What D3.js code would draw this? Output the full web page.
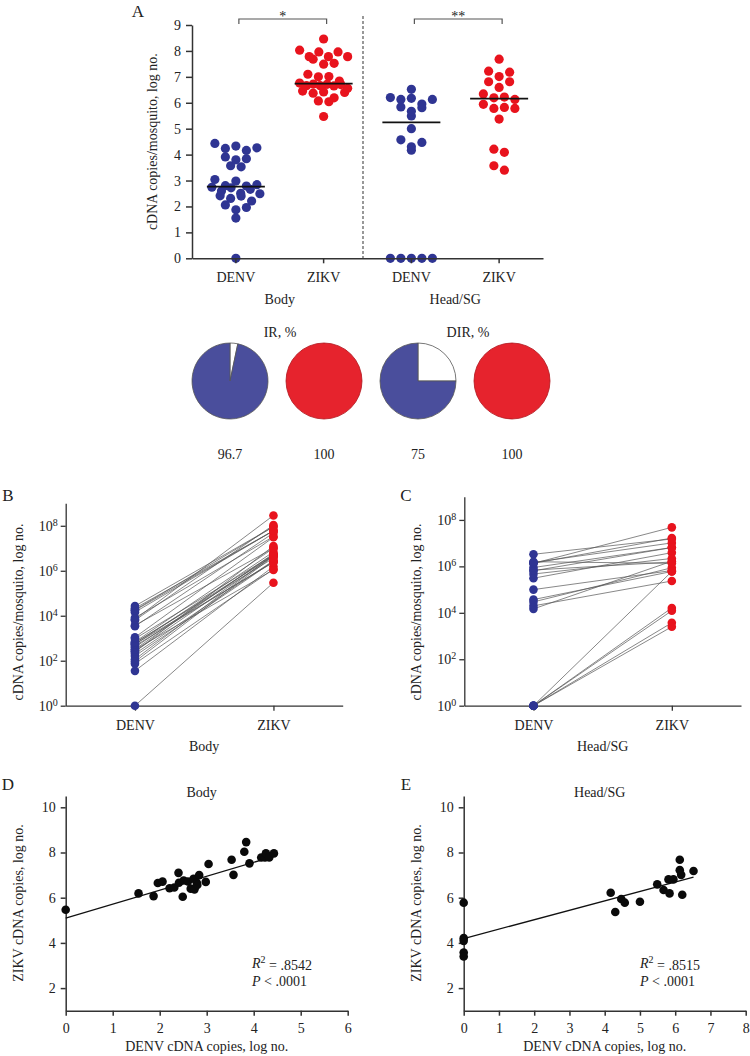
<!DOCTYPE html>
<html>
<head>
<meta charset="utf-8">
<script src="https://cdn.jsdelivr.net/npm/d3@7"></script>
<style>
    body { margin: 0; background: #fff; }
    svg { display: block; }
</style>
</head>
<body>
<div id="chart"></div>
<script>

const bodyDenv = [0, 1.55, 1.87, 1.96, 2.06, 2.21, 2.31, 2.40, 2.41, 2.49, 2.51, 2.60, 2.66, 2.72, 2.74,
                  2.79, 2.80, 2.84, 2.98, 3.04, 3.53, 3.57, 3.80, 3.84, 3.91, 4.16, 4.24, 4.26, 4.33, 4.43];
const bodyZikv = [5.47, 6.19, 6.07, 6.65, 6.71, 6.42, 6.45, 7.10, 6.66, 6.04, 6.76, 6.72, 6.40, 6.84, 6.37,
                  6.66, 6.56, 7.00, 6.70, 7.49, 7.68, 7.01, 8.03, 8.46, 7.52, 7.78, 7.78, 7.96, 7.78, 7.96];

const headDenv = [0, 0, 0, 0, 0, 4.17, 4.30, 4.47, 4.57, 5.00,
                  5.49, 5.67, 5.81, 5.84, 5.95, 6.13, 6.13, 6.17, 6.20, 6.52];
const headZikv = [5.78, 4.21, 4.09, 3.57, 3.40, 6.22, 5.37, 5.94, 5.78, 5.82,
                  6.59, 6.34, 6.81, 6.19, 6.81, 7.68, 7.22, 7.01, 6.13, 7.18];

const virusLabels = ["DENV", "ZIKV"];
const tissueLabels = ["Body", "Head/SG"];
const sigMarks = ["*", "**"];

const infectionRates = [96.7, 100, 75, 100];
const rateTitles = ["IR, %", "DIR, %"];

const logTicks = [0, 2, 4, 6, 8];
const linearTicksA = [0, 1, 2, 3, 4, 5, 6, 7, 8, 9];
const ticksDE = [2, 4, 6, 8, 10];

const bodyFit = {intercept: 5.10, slope: 0.616};
const headFit = {intercept: 4.19, slope: 0.418};
const rSquared = [".8542", ".8515"];
const pValues = [".0001", ".0001"];

const FONT = '"Liberation Serif", "DejaVu Serif", serif';
const BLUE = "#2f3593";
const RED = "#e8131d";
const PIE_BLUE = "#4a4e9c";
const PIE_RED = "#e6232d";
const AXIS = "#333";
const TEXT = "#222";

const svg = d3.select("#chart")
    .append("svg")
    .attr("width", 750)
    .attr("height", 1056)
    .attr("font-family", FONT)
    .style("background", "#fff");

function styleAxis(g, width) {
    g.attr("font-family", FONT).attr("font-size", 14);
    g.select(".domain").attr("stroke", AXIS).attr("stroke-width", width);
    g.selectAll(".tick line").attr("stroke", AXIS).attr("stroke-width", width);
    g.selectAll(".tick text").attr("fill", TEXT);
}

function addText(x, y, str, size, anchor) {
    return svg.append("text")
        .attr("x", x).attr("y", y)
        .attr("font-size", size)
        .attr("text-anchor", anchor || "middle")
        .attr("fill", TEXT)
        .text(str);
}

function addYLabel(x, y, str) {
    svg.append("text")
        .attr("transform", "translate(" + x + "," + y + ") rotate(-90)")
        .attr("font-size", 14)
        .attr("text-anchor", "middle")
        .attr("fill", TEXT)
        .text(str);
}

function powerLabels(g) {
    g.selectAll(".tick text").each(function (d) {
        let t = d3.select(this);
        t.text("10");
        t.append("tspan")
            .attr("dy", "-0.5em")
            .attr("font-size", 10)
            .text(Math.round(Math.log10(d)));
    });
}

// scatter-dot layout: walk the points top to bottom, open a new row whenever a
// point is more than rowHeight below the first point of the current row, then
// spread each row evenly about the centre (squeezed if it gets too wide)
function swarm(values, y, rowHeight, spacing, maxHalf) {
    let pts = values.map(v => ({v: v, y: y(v), x: 0}));
    let sorted = pts.slice().sort((a, b) => a.y - b.y);
    let rows = [];
    sorted.forEach(p => {
        let row = rows[rows.length - 1];
        if (!row || p.y - row[0].y > rowHeight) rows.push([p]);
        else row.push(p);
    });
    rows.forEach((row, r) => {
        let n = row.length;
        let step = n > 1 ? Math.min(spacing, 2 * maxHalf / (n - 1)) : 0;
        let shift = (n === 1 && r % 2 === 1) ? 0 : 0;
        row.forEach((p, j) => {
            p.x = (j - (n - 1) / 2) * step + shift;
        });
        // interleave so the row is not ordered by value left to right
        let xs = row.map(p => p.x);
        let idx = d3.range(n).sort((a, b) => (a % 2) - (b % 2) || a - b);
        row.forEach((p, j) => { p.x = xs[idx[j]]; });
    });
    return pts;
}

// ---------------- panel A ----------------
const groupsA = ["bodyDenv", "bodyZikv", "headDenv", "headZikv"];
const seriesA = [bodyDenv, bodyZikv, headDenv, headZikv];
const colorsA = [BLUE, RED, BLUE, RED];

const xA = d3.scaleBand().domain(groupsA).range([192, 543]);
const yA = d3.scaleLinear().domain([0, 9]).range([258.3, 25]);
const cA = g => xA(g) + xA.bandwidth() / 2;

addText(138, 17, "A", 17);

svg.append("line")
    .attr("x1", 363).attr("x2", 363)
    .attr("y1", 16).attr("y2", yA(0))
    .attr("stroke", "#555").attr("stroke-width", 1.2)
    .attr("stroke-dasharray", "3,2");

seriesA.forEach((vals, i) => {
    let cx = cA(groupsA[i]);
    let pts = swarm(vals, yA, 7.5, 10.5, 24);
    svg.append("g").selectAll("circle")
        .data(pts)
        .enter()
        .append("circle")
        .attr("cx", d => cx + d.x)
        .attr("cy", d => d.y)
        .attr("r", 4.6)
        .attr("fill", colorsA[i]);

    let med = d3.median(vals);
    svg.append("line")
        .attr("x1", cx - 29).attr("x2", cx + 29)
        .attr("y1", yA(med)).attr("y2", yA(med))
        .attr("stroke", "#111").attr("stroke-width", 1.6);
});

svg.append("g")
    .attr("transform", "translate(192,0)")
    .call(d3.axisLeft(yA).tickValues(linearTicksA).tickSize(6).tickPadding(5).tickSizeOuter(0))
    .call(g => styleAxis(g, 1.5));

svg.append("g")
    .attr("transform", "translate(0," + yA(0) + ")")
    .call(d3.axisBottom(xA).tickSize(5).tickPadding(9).tickSizeOuter(0)
        .tickFormat((d, i) => virusLabels[i % 2]))
    .call(g => styleAxis(g, 1.5));

addYLabel(157, yA(4.5), "cDNA copies/mosquito, log no.");

tissueLabels.forEach((t, i) => {
    let x1 = cA(groupsA[i * 2]);
    let x2 = cA(groupsA[i * 2 + 1]);
    addText((x1 + x2) / 2, 304, t, 14);

    svg.append("path")
        .attr("d", "M" + (x1 + 3) + ",24V19H" + (x2 + 3) + "V24")
        .attr("fill", "none")
        .attr("stroke", "#555")
        .attr("stroke-width", 1.2);
    addText((x1 + x2) / 2 + 3, 21, sigMarks[i], 14);
});

// pies
const xPie = d3.scalePoint().domain(d3.range(infectionRates.length)).range([230, 512]);
const pie = d3.pie().sort(null).value(d => d);
const arc = d3.arc().innerRadius(0).outerRadius(38);

infectionRates.forEach((rate, i) => {
    let g = svg.append("g").attr("transform", "translate(" + xPie(i) + ",381)");
    g.selectAll("path")
        .data(pie([100 - rate, rate]))
        .enter()
        .append("path")
        .attr("d", arc)
        .attr("fill", (d, j) => j === 0 ? "#fff" : (i % 2 === 0 ? PIE_BLUE : PIE_RED))
        .attr("stroke", (d, j) => i % 2 === 0 || j === 0 ? "#555" : "#b0141c")
        .attr("stroke-width", 0.8);
    addText(xPie(i), 459, String(rate), 14);
});

rateTitles.forEach((t, i) => {
    addText((xPie(i * 2) + xPie(i * 2 + 1)) / 2 + 3, 337, t, 14);
});

// ---------------- panels B and C ----------------
function drawPaired(denv, zikv, opt) {
    let x = d3.scalePoint().domain(virusLabels).range([opt.x0, opt.x1]).padding(0.5);
    let y = d3.scaleLog().domain([1, 1e9]).range([705.7, opt.top]);

    addText(opt.letterX, 501, opt.letter, 17);

    let pairs = denv.map((d, i) => ({denv: 10 ** d, zikv: 10 ** zikv[i]}));

    svg.append("g").selectAll("line")
        .data(pairs)
        .enter()
        .append("line")
        .attr("x1", x("DENV"))
        .attr("x2", x("ZIKV"))
        .attr("y1", d => y(d.denv))
        .attr("y2", d => y(d.zikv))
        .attr("stroke", "#555")
        .attr("stroke-width", 0.7);

    svg.append("g")
        .attr("transform", "translate(" + opt.x0 + ",0)")
        .call(d3.axisLeft(y).tickValues(logTicks.map(p => 10 ** p)).tickSize(5).tickPadding(3).tickSizeOuter(0))
        .call(g => styleAxis(g, 1.3))
        .call(powerLabels);

    svg.append("g")
        .attr("transform", "translate(0,705.7)")
        .call(d3.axisBottom(x).tickSize(5).tickPadding(9).tickSizeOuter(0))
        .call(g => styleAxis(g, 1.3));

    svg.append("g").selectAll("circle")
        .data(pairs)
        .enter()
        .append("circle")
        .attr("cx", x("DENV"))
        .attr("cy", d => y(d.denv))
        .attr("r", 4.3)
        .attr("fill", BLUE);

    svg.append("g").selectAll("circle")
        .data(pairs)
        .enter()
        .append("circle")
        .attr("cx", x("ZIKV"))
        .attr("cy", d => y(d.zikv))
        .attr("r", 4.3)
        .attr("fill", RED);

    addYLabel(opt.x0 - 43, 612, "cDNA copies/mosquito, log no.");
    addText((opt.x0 + opt.x1) / 2, 751, opt.tissue, 14);
}

drawPaired(bodyDenv, bodyZikv, {x0: 65.7, x1: 342.7, top: 503.3, letter: "B", letterX: 8, tissue: tissueLabels[0]});
drawPaired(headDenv, headZikv, {x0: 464.3, x1: 741, top: 496.7, letter: "C", letterX: 406, tissue: tissueLabels[1]});

// ---------------- panels D and E ----------------
function drawScatter(denv, zikv, fit, opt) {
    let x = d3.scaleLinear().domain([0, opt.xMax]).range([opt.x0, opt.x1]);
    let y = d3.scaleLinear().domain([1, 10.5]).range([1010.7, 796]);

    addText(opt.letterX, 790, opt.letter, 17);
    addText(opt.x0 + 136, 797, opt.tissue, 14);

    svg.append("g")
        .attr("transform", "translate(" + opt.x0 + ",0)")
        .call(d3.axisLeft(y).tickValues(ticksDE).tickSize(5).tickPadding(5).tickSizeOuter(0))
        .call(g => styleAxis(g, 1.5));

    svg.append("g")
        .attr("transform", "translate(0,1010.7)")
        .call(d3.axisBottom(x).ticks(opt.xMax).tickSize(5).tickPadding(7).tickSizeOuter(0))
        .call(g => styleAxis(g, 1.5));

    let xEnd = d3.max(denv);
    svg.append("line")
        .attr("x1", x(0)).attr("x2", x(xEnd))
        .attr("y1", y(fit.intercept))
        .attr("y2", y(fit.intercept + fit.slope * xEnd))
        .attr("stroke", "#111")
        .attr("stroke-width", 1.3);

    svg.append("g").selectAll("circle")
        .data(denv.map((d, i) => [d, zikv[i]]))
        .enter()
        .append("circle")
        .attr("cx", d => x(d[0]))
        .attr("cy", d => y(d[1]))
        .attr("r", 4.3)
        .attr("fill", "#0a0a0a");

    let r2 = svg.append("text")
        .attr("x", opt.statX).attr("y", 968)
        .attr("font-size", 14).attr("fill", TEXT);
    r2.append("tspan").attr("font-style", "italic").text("R");
    r2.append("tspan").attr("dy", "-0.5em").attr("font-size", 10).text("2");
    r2.append("tspan").attr("dy", "0.5em").text(" = " + opt.r2);

    let p = svg.append("text")
        .attr("x", opt.statX).attr("y", 986)
        .attr("font-size", 14).attr("fill", TEXT);
    p.append("tspan").attr("font-style", "italic").text("P");
    p.append("tspan").text(" < " + opt.p);

    addYLabel(opt.x0 - 43, 903, "ZIKV cDNA copies, log no.");
    addText((opt.x0 + opt.x1) / 2, 1051, "DENV cDNA copies, log no.", 14);
}

drawScatter(bodyDenv, bodyZikv, bodyFit,
    {x0: 65.7, x1: 347.7, xMax: 6, letter: "D", letterX: 8, tissue: tissueLabels[0], statX: 252, r2: rSquared[0], p: pValues[0]});
drawScatter(headDenv, headZikv, headFit,
    {x0: 463.7, x1: 745.7, xMax: 8, letter: "E", letterX: 406, tissue: tissueLabels[1], statX: 640, r2: rSquared[1], p: pValues[1]});

</script>
</body>
</html>
